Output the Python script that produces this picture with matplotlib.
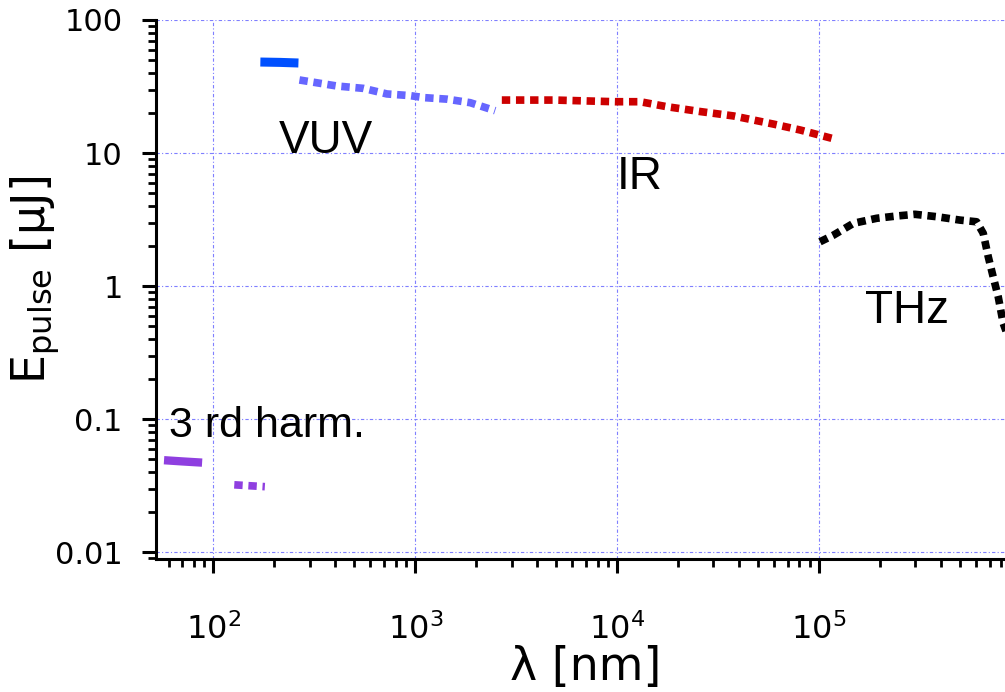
import matplotlib.pyplot as plt
from matplotlib.ticker import LogLocator, NullFormatter, FixedLocator

# VUV (solid) - wavelength in nm, pulse energy in uJ
vuv_x = [171, 215, 264]
vuv_y = [48.3, 48.0, 47.5]

# VUV extension (dotted)
vuv2_x = [267, 409, 555, 724, 944, 1099, 1436, 1871, 2489]
vuv2_y = [35.4, 31.9, 30.6, 27.8, 27.0, 26.1, 25.4, 23.9, 20.8]

# IR (dotted)
ir_x = [2685, 4932, 9773, 13000, 17620, 25770, 37680, 59430, 80540, 115600]
ir_y = [25.0, 25.0, 24.3, 24.3, 22.3, 20.5, 19.0, 16.5, 14.9, 12.9]

# THz (dotted)
thz_x = [101100, 117800, 148000, 193100, 242700, 298600, 382600, 498900,
         603400, 650700, 689000, 729000, 772000, 817000, 900000]
thz_y = [2.15, 2.41, 2.96, 3.23, 3.36, 3.46, 3.32, 3.13,
         3.04, 2.49, 1.66, 1.17, 0.83, 0.525, 0.35]

# 3rd harmonic
h3_x = [57, 70, 88]
h3_y = [0.049, 0.048, 0.047]
h3b_x = [127, 180]
h3b_y = [0.032, 0.031]

fig = plt.figure(figsize=(10.05, 6.92), dpi=100)
ax = fig.add_axes([0.1552, 0.1922, 0.8448, 0.7789])

dots = (0, (1.1, 0.75))
ax.plot(vuv_x, vuv_y, color='#0050ff', lw=6.5, solid_capstyle='butt')
ax.plot(vuv2_x, vuv2_y, color='#6666ff', lw=5.5, linestyle=dots)
ax.plot(ir_x, ir_y, color='#cc0000', lw=5.5, linestyle=dots)
ax.plot(thz_x, thz_y, color='black', lw=5.5, linestyle=dots)
ax.plot(h3_x, h3_y, color='#8f3fe0', lw=6, solid_capstyle='butt')
ax.plot(h3b_x, h3b_y, color='#8f3fe0', lw=5.5, linestyle=dots)

ax.set_xscale('log')
ax.set_yscale('log')
ax.set_xlim(52, 8.34e5)
ax.set_ylim(0.00886, 100)

ax.xaxis.set_major_locator(FixedLocator([1e2, 1e3, 1e4, 1e5]))
ax.set_xticklabels([r'$10^{2}$', r'$10^{3}$', r'$10^{4}$', r'$10^{5}$'])
ax.xaxis.set_minor_locator(LogLocator(base=10, subs=range(2, 10), numticks=20))
ax.xaxis.set_minor_formatter(NullFormatter())
ax.yaxis.set_major_locator(FixedLocator([0.01, 0.1, 1, 10, 100]))
ax.set_yticklabels(['0.01', '0.1', '1', '10', '100'])
ax.yaxis.set_minor_locator(LogLocator(base=10, subs=range(2, 10), numticks=20))
ax.yaxis.set_minor_formatter(NullFormatter())

ax.tick_params(which='major', direction='out', length=10, width=2.2,
               labelsize=22)
ax.tick_params(which='minor', direction='out', length=6, width=2)
ax.tick_params(axis='x', which='major', pad=29, labelsize=23)
ax.tick_params(axis='y', which='major', pad=14)

for side in ['top', 'right']:
    ax.spines[side].set_visible(False)
for side in ['left', 'bottom']:
    ax.spines[side].set_linewidth(2.2)

ax.grid(True, which='major', color='#7f7fff', lw=0.8,
        linestyle=(0, (3, 2, 1, 2)))

ax.set_xlabel('λ [nm]', fontsize=33)
ax.xaxis.set_label_coords(0.506, -0.202)
ax.xaxis.label.set_va('center')
ax.set_ylabel(r'$\mathrm{E}_{\mathrm{pulse}}$ [μJ]', fontsize=33)
ax.yaxis.set_label_coords(-0.1425, 0.5176)
ax.yaxis.label.set_va('center')

lab = dict(fontsize=33, family='Liberation Sans', va='baseline')
ax.text(210, 10, 'VUV', **lab)
ax.text(1.0e4, 5.4, 'IR', **lab)
ax.text(169000, 0.527, 'THz', **lab)
ax.text(60, 0.0733, '3 rd harm.', fontsize=31, family='Liberation Sans',
        va='baseline')

fig.savefig('out.png', dpi=100)
